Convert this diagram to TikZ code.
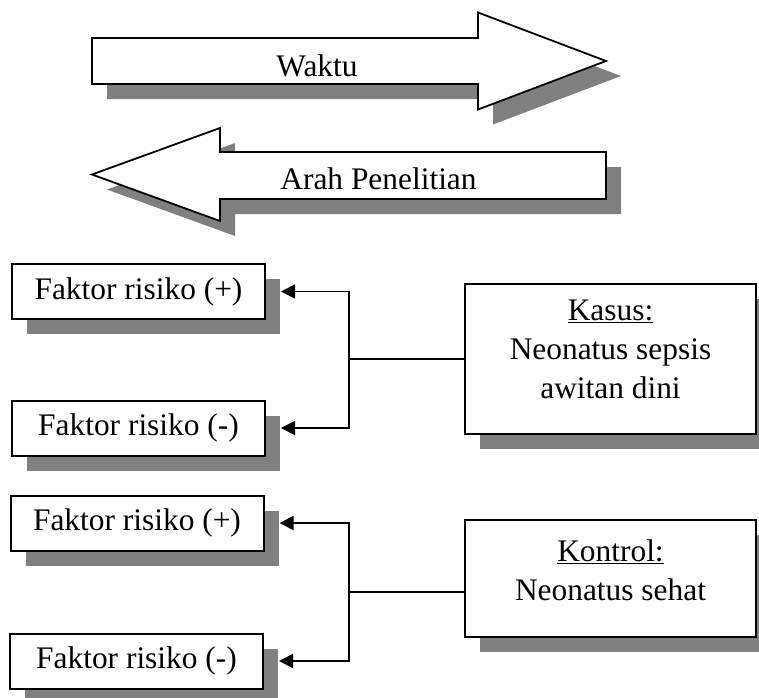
\documentclass[tikz,border=0pt]{standalone}
\usepackage{fontspec}
\setmainfont{Liberation Serif}
\usetikzlibrary{arrows.meta,shadows}
\newcommand\waktupath{(92,38) -- (478,38) -- (478,12.5) -- (606,61) -- (478,109.5) -- (478,84) -- (92,84) -- cycle}
\newcommand\arahpath{(606,152) -- (220,152) -- (220,128) -- (92,174.5) -- (220,221) -- (220,199) -- (606,199) -- cycle}
\begin{document}
\begin{tikzpicture}[x=1pt,y=-1pt,
  txt/.style={font=\fontsize{31.4}{39}\selectfont},
  shadefill/.style={fill=black!50},
  bigarrow/.style={draw=black, line width=1.8pt, fill=white, line join=miter},
  boxshadow/.style={drop shadow={shadow xshift=15pt, shadow yshift=-15pt, fill=black!50, opacity=1}},
  fbox/.style={draw, line width=2pt, fill=white, minimum width=253pt, minimum height=55pt, inner sep=0pt, txt, boxshadow},
  bbox/.style={draw, line width=2pt, fill=white, minimum width=291pt, inner sep=0pt, boxshadow},
  conn/.style={line width=1.8pt, -{Triangle[length=14pt,width=14pt]}},
  plain/.style={line width=1.8pt}
]
\useasboundingbox (0,0) rectangle (759,697);
% arrow shadows
\begin{scope}[shift={(15,15)}]
  \fill[shadefill] \waktupath;
  \fill[shadefill] \arahpath;
\end{scope}
\filldraw[bigarrow] \waktupath;
\filldraw[bigarrow] \arahpath;
\node[txt, anchor=base] (waktu) at (317,76) {Waktu};
\node[txt, anchor=base] (arah) at (378.5,189) {Arah Penelitian};
% small boxes
\node[fbox] (f1) at (138.5,291.5) {Faktor risiko (+)};
\node[fbox] (f2) at (138.5,428) {Faktor risiko (-)};
\node[fbox] (f3) at (137,523) {Faktor risiko (+)};
\node[fbox] (f4) at (136.5,661) {Faktor risiko (-)};
% big boxes
\node[bbox, minimum height=150pt] (kasus) at (610.5,359) {};
\node[txt, align=center] (kasustxt) at ([yshift=9.5pt]kasus.center) {\underline{Kasus:}\\Neonatus sepsis\\awitan dini};
\node[bbox, minimum height=117pt] (kontrol) at (610.5,578.5) {};
\node[txt, align=center] (kontroltxt) at ([yshift=8.5pt]kontrol.center) {\underline{Kontrol:}\\Neonatus sehat};
% connectors
\coordinate (j1) at (349,359);
\coordinate (j2) at (349,592);
\draw[plain] (kasus.west |- j1) -- (j1);
\draw[conn] (j1) |- ([xshift=15pt]f1.east);
\draw[conn] (j1) |- ([xshift=15pt]f2.east);
\draw[plain] (kontrol.west |- j2) -- (j2);
\draw[conn] (j2) |- ([xshift=15pt]f3.east);
\draw[conn] (j2) |- ([xshift=15pt]f4.east);
\end{tikzpicture}
\end{document}
